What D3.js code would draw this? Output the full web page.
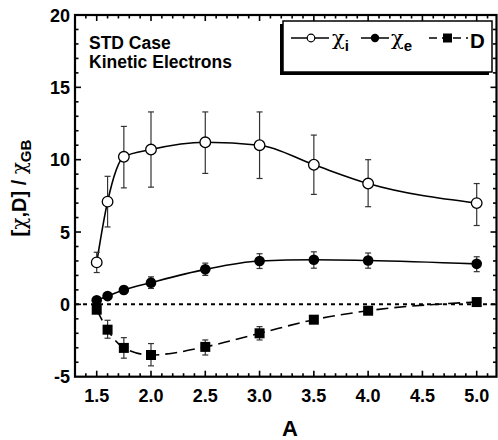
<!DOCTYPE html>
<html><head><meta charset="utf-8">
<script src="https://cdn.jsdelivr.net/npm/d3@7"></script>
<style>
body{margin:0;background:#fff;}
svg text{font-family:"Liberation Sans",Arial,Helvetica,sans-serif;font-weight:bold;fill:#000;}
svg .chi{font-family:"DejaVu Serif","Liberation Serif",serif;font-weight:normal;}
</style></head>
<body>
<svg id="c" width="498" height="440"></svg>
<script>
// ---- data ----
const aspectRatio = [1.5, 1.6, 1.75, 2.0, 2.5, 3.0, 3.5, 4.0, 5.0];
const chiI   = [2.9, 7.1, 10.2, 10.7, 11.2, 11.0, 9.65, 8.35, 7.0];
const chiILo = [2.2, 5.35, 8.05, 8.1, 9.05, 8.7, 7.6, 6.75, 5.45];
const chiIHi = [3.6, 8.85, 12.3, 13.3, 13.3, 13.3, 11.7, 10.0, 8.35];
const chiE   = [0.28, 0.57, 0.99, 1.5, 2.42, 3.0, 3.08, 3.03, 2.8];
const chiELo = [0.1, 0.35, 0.75, 1.1, 2.0, 2.48, 2.5, 2.5, 2.26];
const chiEHi = [0.45, 0.8, 1.25, 1.9, 2.85, 3.5, 3.63, 3.55, 3.29];
const diffD  = [-0.37, -1.75, -3.01, -3.5, -2.94, -2.0, -1.06, -0.44, 0.16];
const diffDLo= [-0.6, -2.34, -3.72, -4.25, -3.5, -2.46, -1.3, -0.65, -0.05];
const diffDHi= [-0.15, -1.1, -2.3, -2.71, -2.46, -1.54, -0.8, -0.25, 0.35];
const xTickLabels = ["1.5","2.0","2.5","3.0","3.5","4.0","4.5","5.0"];
const yTickLabels = ["-5","0","5","10","15","20"];

const svg = d3.select("#c");
const L = 75, R = 496.5, T = 15, B = 376.7;
const x = d3.scaleLinear().domain([1.3, 5.0]).range([L, 476.7]);
const y = d3.scaleLinear().domain([-5, 20]).range([B, T]);

// zero dotted line
svg.append("line").attr("x1", L).attr("x2", R).attr("y1", y(0)).attr("y2", y(0))
  .attr("stroke", "#000").attr("stroke-width", 2).attr("stroke-dasharray", "4,4");

// curves
const mk = (vals) => aspectRatio.map((a, i) => [a, vals[i]]);
const line = d3.line().x(d => x(d[0])).y(d => y(d[1])).curve(d3.curveMonotoneX);
svg.append("path").attr("d", line(mk(chiI))).attr("fill", "none").attr("stroke", "#000").attr("stroke-width", 1.6);
svg.append("path").attr("d", line(mk(chiE))).attr("fill", "none").attr("stroke", "#000").attr("stroke-width", 1.6);
svg.append("path").attr("d", line(mk(diffD))).attr("fill", "none").attr("stroke", "#000").attr("stroke-width", 1.6)
  .attr("stroke-dasharray", "12,6");

// error bars
function errBars(lo, hi) {
  const g = svg.append("g").attr("stroke", "#333").attr("stroke-width", 1.2);
  aspectRatio.forEach((a, i) => {
    const cx = x(a);
    g.append("line").attr("x1", cx).attr("x2", cx).attr("y1", y(lo[i])).attr("y2", y(hi[i]));
    g.append("line").attr("x1", cx - 3).attr("x2", cx + 3).attr("y1", y(lo[i])).attr("y2", y(lo[i]));
    g.append("line").attr("x1", cx - 3).attr("x2", cx + 3).attr("y1", y(hi[i])).attr("y2", y(hi[i]));
  });
}
errBars(chiILo, chiIHi);
errBars(chiELo, chiEHi);
errBars(diffDLo, diffDHi);

// markers
svg.append("g").selectAll("circle").data(mk(chiI)).join("circle")
  .attr("cx", d => x(d[0])).attr("cy", d => y(d[1])).attr("r", 5.3)
  .attr("fill", "#fff").attr("stroke", "#000").attr("stroke-width", 1.3);
svg.append("g").selectAll("circle").data(mk(chiE)).join("circle")
  .attr("cx", d => x(d[0])).attr("cy", d => y(d[1])).attr("r", 5.3).attr("fill", "#000");
svg.append("g").selectAll("rect").data(mk(diffD)).join("rect")
  .attr("x", d => x(d[0]) - 5).attr("y", d => y(d[1]) - 5).attr("width", 10).attr("height", 10).attr("fill", "#000");

// frame & ticks
const fr = svg.append("g").attr("stroke", "#000");
const xMinor = d3.range(13, 52).map(v => v / 10);
const yMinor = d3.range(-5, 21);
xMinor.forEach(v => {
  const major = Math.abs(v * 2 - Math.round(v * 2)) < 1e-6;
  const len = major ? 6 : 3.5;
  if (x(v) > L + 1 && x(v) < R - 1) {
    fr.append("line").attr("x1", x(v)).attr("x2", x(v)).attr("y1", B).attr("y2", B - len).attr("stroke-width", 1.6);
    fr.append("line").attr("x1", x(v)).attr("x2", x(v)).attr("y1", T).attr("y2", T + len).attr("stroke-width", 1.6);
  }
});
yMinor.forEach(v => {
  const major = v % 5 === 0;
  const len = major ? 6 : 3.5;
  if (y(v) > T + 1 && y(v) < B - 1) {
    fr.append("line").attr("x1", L).attr("x2", L + len).attr("y1", y(v)).attr("y2", y(v)).attr("stroke-width", 1.6);
    fr.append("line").attr("x1", R).attr("x2", R - len).attr("y1", y(v)).attr("y2", y(v)).attr("stroke-width", 1.6);
  }
});
svg.append("rect").attr("x", L).attr("y", T).attr("width", R - L).attr("height", B - T)
  .attr("fill", "none").attr("stroke", "#000").attr("stroke-width", 2.2);

// tick labels
xTickLabels.forEach(t => {
  svg.append("text").attr("x", x(+t)).attr("y", 402).attr("text-anchor", "middle")
    .attr("font-size", 18).text(t);
});
yTickLabels.forEach(t => {
  svg.append("text").attr("x", 70).attr("y", y(+t) + 6.5).attr("text-anchor", "end")
    .attr("font-size", 18).text(t);
});

// axis titles
svg.append("text").attr("x", 290).attr("y", 436).attr("text-anchor", "middle").attr("font-size", 22).text("A");
const yl = svg.append("text").attr("transform", "translate(26,188) rotate(-90)").attr("text-anchor", "middle").attr("font-size", 20);
yl.append("tspan").text("[");
yl.append("tspan").attr("class", "chi").text("χ");
yl.append("tspan").text(",D] / ");
yl.append("tspan").attr("class", "chi").text("χ");
yl.append("tspan").attr("dy", 5).attr("font-size", 15).text("GB");

// annotation
svg.append("text").attr("x", 89).attr("y", 48.5).attr("font-size", 17.5).text("STD Case");
svg.append("text").attr("x", 89).attr("y", 68).attr("font-size", 17.5).text("Kinetic Electrons");

// legend
const lg = svg.append("g");
lg.append("rect").attr("x", 280).attr("y", 24).attr("width", 209).attr("height", 51).attr("fill", "#000");
lg.append("rect").attr("x", 283).attr("y", 21).attr("width", 209).attr("height", 51)
  .attr("fill", "#fff").attr("stroke", "#000").attr("stroke-width", 1.5);
const ly = 38;
lg.append("line").attr("x1", 291).attr("x2", 329).attr("y1", ly).attr("y2", ly).attr("stroke", "#000").attr("stroke-width", 1.5);
lg.append("circle").attr("cx", 311).attr("cy", ly).attr("r", 3.8).attr("fill", "#fff").attr("stroke", "#000").attr("stroke-width", 1.2);
const t1 = lg.append("text").attr("x", 332).attr("y", 45).attr("font-size", 21);
t1.append("tspan").attr("class", "chi").text("χ");
t1.append("tspan").attr("dy", 6).attr("font-size", 15).text("i");
lg.append("line").attr("x1", 361).attr("x2", 389).attr("y1", ly).attr("y2", ly).attr("stroke", "#000").attr("stroke-width", 1.5);
lg.append("circle").attr("cx", 375).attr("cy", ly).attr("r", 4.2).attr("fill", "#000");
const t2 = lg.append("text").attr("x", 391).attr("y", 45).attr("font-size", 21);
t2.append("tspan").attr("class", "chi").text("χ");
t2.append("tspan").attr("dy", 6).attr("font-size", 15).text("e");
lg.append("line").attr("x1", 429).attr("x2", 468).attr("y1", ly).attr("y2", ly).attr("stroke", "#000").attr("stroke-width", 1.5)
  .attr("stroke-dasharray", "8,5,3,8");
lg.append("rect").attr("x", 443).attr("y", ly - 4.5).attr("width", 9).attr("height", 9).attr("fill", "#000");
lg.append("text").attr("x", 470).attr("y", 47.5).attr("font-size", 20.5).text("D");
</script>
</body></html>
